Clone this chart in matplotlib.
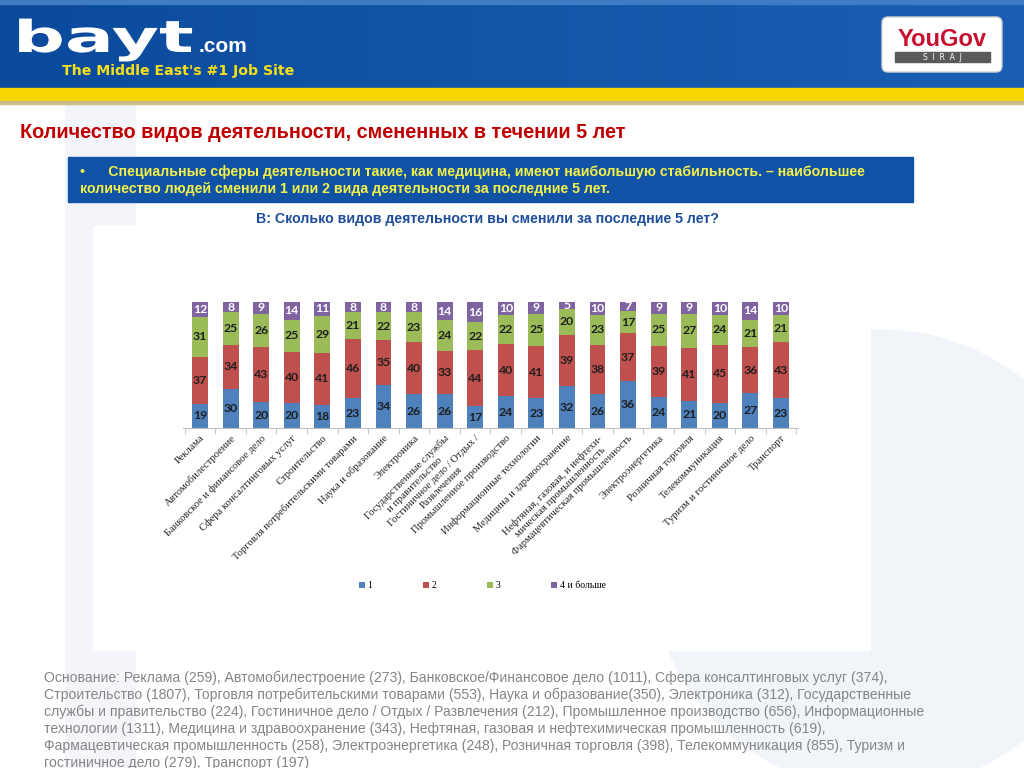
import numpy as np
import matplotlib
matplotlib.use('Agg')
import matplotlib.pyplot as plt
from matplotlib import font_manager
from matplotlib.patches import Rectangle, FancyBboxPatch, Circle, PathPatch
from matplotlib.textpath import TextPath
from matplotlib.transforms import Affine2D

# data
categories = ['Реклама', 'Автомобилестроение', 'Банковское и финансовое дело',
              'Сфера консалтинговых услуг', 'Строительство',
              'Торговля потребительскими товарами', 'Наука и образование',
              'Электроника', 'Государственные службы\nи правительство',
              'Гостиничное дело / Отдых /\nРазвлечения', 'Промышленное производство',
              'Информационные технологии', 'Медицина и здравоохранение',
              'Нефтяная, газовая, и нефтехи-\nмическая промышленность',
              'Фармацевтическая промышленность', 'Электроэнергетика',
              'Розничная торговля', 'Телекоммуникация',
              'Туризм и гостиничное дело', 'Транспорт']
one = [19, 30, 20, 20, 18, 23, 34, 26, 26, 17, 24, 23, 32, 26, 36, 24, 21, 20, 27, 23]
two = [37, 34, 43, 40, 41, 46, 35, 40, 33, 44, 40, 41, 39, 38, 37, 39, 41, 45, 36, 43]
three = [31, 25, 26, 25, 29, 21, 22, 23, 24, 22, 22, 25, 20, 23, 17, 25, 27, 24, 21, 21]
four = [12, 8, 9, 14, 11, 8, 8, 8, 14, 16, 10, 9, 5, 10, 7, 9, 9, 10, 14, 10]
series_names = ['1', '2', '3', '4 и больше']
colors = ['#4F81BD', '#C0504D', '#9BBB59', '#8064A2']

footer_lines = [
    'Основание: Реклама (259), Автомобилестроение (273), Банковское/Финансовое дело (1011), Сфера консалтинговых услуг (374),',
    'Строительство (1807), Торговля потребительскими товарами (553), Наука и образование(350), Электроника (312), Государственные',
    'службы и правительство (224), Гостиничное дело / Отдых / Развлечения (212), Промышленное производство (656), Информационные',
    'технологии (1311), Медицина и здравоохранение (343), Нефтяная, газовая и нефтехимическая промышленность (619),',
    'Фармацевтическая промышленность (258), Электроэнергетика (248), Розничная торговля (398), Телекоммуникация (855), Туризм и',
    'гостиничное дело (279), Транспорт (197)',
]

available = {f.name for f in font_manager.fontManager.ttflist}
narrow = 'Liberation Sans Narrow' if 'Liberation Sans Narrow' in available else 'Liberation Sans'
serif = 'Liberation Serif'
label_font = 'Lato' if 'Lato' in available else 'DejaVu Sans'

fig = plt.figure(figsize=(10.24, 7.68), dpi=100)
fig.patch.set_facecolor('white')

# page decoration in pixel coordinates
bg = fig.add_axes([0, 0, 1, 1])
bg.axis('off')
grad = np.linspace(0, 1, 256).reshape(1, -1)
cmap = matplotlib.colors.LinearSegmentedColormap.from_list('hdr', ['#0b4a9c', '#1256a8', '#1a5fb2'])
bg.imshow(grad, extent=(0, 1024, 88, 0), aspect='auto', cmap=cmap, zorder=0)
bg.add_patch(Rectangle((0, 0), 1024, 4, color='#3f7cc4', zorder=1))
bg.add_patch(Rectangle((0, 88), 1024, 13, color='#f6d800', zorder=1))
bg.add_patch(Rectangle((0, 101), 1024, 3, color='#c9bd8a', zorder=1))
bg.add_patch(Rectangle((65, 104), 70, 664, color='#f3f5fa', zorder=0.5))
bg.add_patch(Circle((880, 560), 230, color='#f1f4f9', zorder=0.5))

# stretched logo text
logo_prop = font_manager.FontProperties(family='DejaVu Sans', weight='bold')
logo = TextPath((0, 0), 'bayt', size=44, prop=logo_prop)
logo_tr = Affine2D().scale(1.65, -1.0).translate(13, 52) + bg.transData
bg.add_patch(PathPatch(logo, facecolor='white', edgecolor='none', transform=logo_tr, zorder=2))
bg.text(199, 52, '.com', color='white', fontsize=15, fontweight='bold',
        family='Liberation Sans', va='baseline', ha='left', zorder=2)
bg.text(62, 71, "The Middle East's #1 Job Site", color='#f7e017', fontsize=10.2,
        fontweight='bold', family='DejaVu Sans', va='center', zorder=2)

bg.add_patch(FancyBboxPatch((882, 17), 120, 55, boxstyle='round,pad=0,rounding_size=6',
                            facecolor='white', edgecolor='#d0d0d0', zorder=2))
bg.text(942, 39, 'YouGov', color='#c8102e', fontsize=17, fontweight='bold',
        family='Liberation Sans', ha='center', va='center', zorder=3)
bg.add_patch(Rectangle((895, 52), 95, 10, color='#5a5a5a', zorder=3))
bg.text(942, 57, 'S  I  R  A  J', color='white', fontsize=5.5, ha='center', va='center', zorder=4)

bg.text(20, 133, 'Количество видов деятельности, смененных в течении 5 лет',
        color='#c00000', fontsize=14.3, fontweight='bold', family=narrow,
        ha='left', va='center', zorder=2)

bg.add_patch(Rectangle((68, 157), 845, 45, color='#0f52a6', zorder=2))
bg.text(80, 172, '•      Специальные сферы деятельности такие, как медицина, имеют наибольшую стабильность. – наибольшее',
        color='#f4f04a', fontsize=10.2, fontweight='bold', family=narrow, ha='left', va='center', zorder=3)
bg.text(80, 189, 'количество людей сменили 1 или 2 вида деятельности за последние 5 лет.',
        color='#f4f04a', fontsize=10.2, fontweight='bold', family=narrow, ha='left', va='center', zorder=3)

bg.text(487, 219, 'В: Сколько видов деятельности вы сменили за последние 5 лет?',
        color='#1f4e9c', fontsize=10.2, fontweight='bold', family=narrow,
        ha='center', va='center', zorder=2)

bg.add_patch(Rectangle((93, 226), 777, 424, color='white', zorder=1))

for i, line in enumerate(footer_lines):
    bg.text(44, 678 + i * 17, line, color='#858585', fontsize=10.1, family=narrow,
            ha='left', va='center', zorder=2)

bg.set_xlim(0, 1024)
bg.set_ylim(768, 0)

# chart
ax = fig.add_axes([0.1789, 0.4427, 0.6002, 0.1641])
ax.set_zorder(3)
ax.patch.set_alpha(0)
x = np.arange(len(categories))
series = [np.array(one), np.array(two), np.array(three), np.array(four)]
totals = sum(series)
bottom = np.zeros(len(categories))
handles = []
for k, vals in enumerate(series):
    share = vals / totals * 100
    bars = ax.bar(x, share, 0.52, bottom=bottom, color=colors[k], label=series_names[k])
    txt_color = 'white' if k == 3 else '#1e1e1e'
    ax.bar_label(bars, labels=[str(v) for v in vals], label_type='center',
                 fontsize=8.8, fontweight='bold', color=txt_color, family=label_font)
    bottom += share
    handles.append(bars)

ax.set_xlim(-0.55, len(categories) - 0.45)
ax.set_ylim(0, 100)
ax.set_xticks(x)
ax.set_xticklabels(categories, rotation=45, ha='right', rotation_mode='anchor',
                   family=serif, fontsize=7.6, color='#262626', multialignment='center')
ax.set_xticks(np.arange(-0.5, len(categories), 1), minor=True)
ax.tick_params(axis='x', which='major', length=0, pad=4)
ax.tick_params(axis='x', which='minor', length=4, color='#bfbfbf', direction='out')
ax.set_yticks([])
for s in ['top', 'right', 'left']:
    ax.spines[s].set_visible(False)
ax.spines['bottom'].set_color('#bfbfbf')

fig.legend(handles, series_names, loc='center', bbox_to_anchor=(0.471, 0.237),
           ncol=4, frameon=False, handlelength=0.6, handleheight=0.6, handletextpad=0.3,
           columnspacing=5.2, prop={'family': serif, 'size': 7})

fig.savefig('out.png', dpi=100, facecolor='white')
